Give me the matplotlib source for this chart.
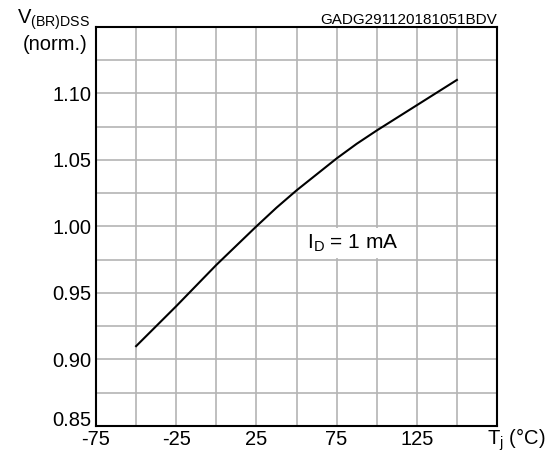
import matplotlib
matplotlib.use("Agg")
import matplotlib.pyplot as plt
import matplotlib.transforms as mtransforms
import numpy as np

plt.rcParams['font.family'] = ['Liberation Sans', 'DejaVu Sans']

temps = [-50, -25, 0, 25, 37.5, 50, 62.5, 75, 87.5, 100, 112.5, 125, 137.5, 150]
vbr = [0.910, 0.940, 0.971, 1.000, 1.014, 1.027, 1.039, 1.051, 1.062, 1.072, 1.0815, 1.091, 1.1005, 1.110]
xticks = [-75, -25, 25, 75, 125]
yticks = [0.85, 0.90, 0.95, 1.00, 1.05, 1.10]

W, H = 555, 455
fig = plt.figure(figsize=(W/100, H/100), dpi=100)
ax = fig.add_axes([96/W, (H-426)/H, (497-96)/W, (426-26.7)/H])

ax.set_xlim(-75, 175)
ax.set_ylim(0.85, 1.15)
xt = np.arange(-75, 176, 25)
yt = np.arange(0.85, 1.151, 0.025)
ax.set_xticks(xt)
ax.set_yticks(yt)
ax.grid(True, color='#b4b4b4', linewidth=1.2)
ax.set_axisbelow(True)
ax.tick_params(length=0, labelsize=14.5, pad=3)
ax.set_xticklabels([str(t) if t in xticks else '' for t in xt])
ax.set_yticklabels([f'{v:.2f}' if any(abs(v - y) < 1e-6 for y in yticks) else '' for v in yt])
for s in ax.spines.values():
    s.set_color('black')
    s.set_linewidth(1.5)

# shift the bottom y label up a little, as in the reference
lab0 = ax.get_yticklabels()[0]
lab0.set_transform(lab0.get_transform() + mtransforms.ScaledTranslation(0, 7/100, fig.dpi_scale_trans))

ax.plot(temps, vbr, color='black', linewidth=1.5)

ax.text(56.5, 0.9873, r'I$_\mathregular{D}$ = 1 mA', fontsize=15, ha='left', va='center',
        bbox=dict(facecolor='white', edgecolor='none', pad=3))

fig.text(17/W, 1 - 20/H, r'V$_\mathregular{(BR)DSS}$', fontsize=14.5, ha='left', va='center')
fig.text(88/W, 1 - 45/H, '(norm.)', fontsize=14.5, ha='right', va='center')
fig.text(497/W, 1 - 24/H, 'GADG291120181051BDV', fontsize=11, ha='right', va='baseline')
fig.text(545/W, 1 - 440/H, r'T$_\mathregular{j}$ (°C)', fontsize=14.5, ha='right', va='center')

fig.savefig('out.png', dpi=100)
